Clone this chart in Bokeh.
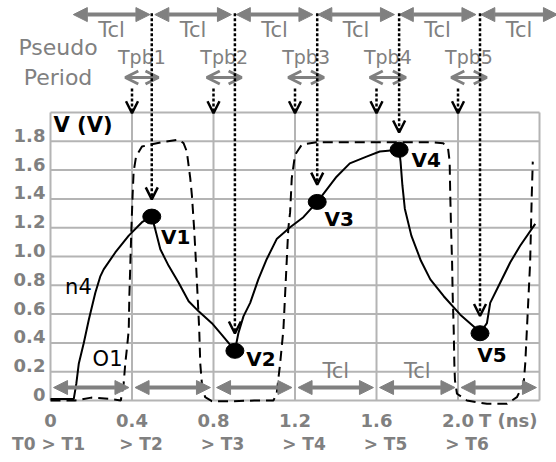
from bokeh.plotting import figure
from bokeh.models import Range1d, ColumnDataSource, Arrow, NormalHead, OpenHead
from bokeh.core.properties import value
from bokeh.embed import file_html
from bokeh.resources import INLINE

# ---------------- data ----------------
grid_t = [0.0, 0.4, 0.8, 1.2, 1.6, 2.0, 2.4]
grid_v = [0.0, 0.2, 0.4, 0.6, 0.8, 1.0, 1.2, 1.4, 1.6, 1.8, 2.0]

x_ticks = [0.0, 0.4, 0.8, 1.2, 1.6, 2.0]
x_tick_labels = ["0", "0.4", "0.8", "1.2", "1.6", "2.0"]
t_step_labels = ["T0 > T1", "> T2", "> T3", "> T4", "> T5", "> T6"]
y_ticks = [0.0, 0.2, 0.4, 0.6, 0.8, 1.0, 1.2, 1.4, 1.6, 1.8]
y_tick_labels = ["0", "0.2", "0.4", "0.6", "0.8", "1.0", "1.2", "1.4", "1.6", "1.8"]

# node n4 (solid)
n4_t = [0.0, 0.114, 0.127, 0.139, 0.163, 0.188, 0.22, 0.245, 0.261, 0.318, 0.384, 0.449, 0.497,
        0.514, 0.539, 0.58, 0.629, 0.678, 0.727, 0.792, 0.841, 0.882, 0.905,
        0.922, 0.947, 0.98, 1.02, 1.061, 1.11, 1.176, 1.241, 1.309,
        1.347, 1.404, 1.469, 1.551, 1.616, 1.711,
        1.718, 1.727, 1.739, 1.771, 1.818, 1.864, 1.93, 2.011, 2.077, 2.108,
        2.142, 2.158, 2.207, 2.256, 2.305, 2.379]
n4_v = [0.01, 0.01, 0.12, 0.257, 0.397, 0.561, 0.748, 0.864, 0.911, 1.028, 1.145, 1.238, 1.277,
        1.19, 1.05, 0.935, 0.818, 0.689, 0.619, 0.537, 0.456, 0.386, 0.345,
        0.467, 0.584, 0.678, 0.841, 0.981, 1.121, 1.203, 1.273, 1.379,
        1.449, 1.554, 1.647, 1.694, 1.729, 1.741,
        1.659, 1.495, 1.332, 1.145, 0.97, 0.841, 0.724, 0.596, 0.514, 0.467,
        0.537, 0.678, 0.818, 0.958, 1.075, 1.227]

# output O1 (dashed)
o1_t = [0.0, 0.12, 0.2, 0.3, 0.345, 0.359, 0.367, 0.376, 0.384, 0.387, 0.392, 0.397, 0.403, 0.408,
        0.42, 0.449, 0.547, 0.629, 0.653, 0.669, 0.686, 0.694, 0.705, 0.714, 0.722, 0.73, 0.735,
        0.743, 0.759, 0.792, 0.9, 1.0, 1.094, 1.11, 1.127, 1.143, 1.151, 1.159, 1.167, 1.176,
        1.184, 1.2, 1.233, 1.306, 1.6, 1.861, 1.927, 1.951, 1.959, 1.962, 1.966, 1.971, 1.974,
        1.979, 1.982, 1.985, 1.995, 2.044, 2.142, 2.24, 2.289, 2.322, 2.33, 2.338, 2.346, 2.354,
        2.358, 2.362, 2.367]
o1_v = [0.0, 0.0, 0.02, 0.01, 0.0, 0.117, 0.257, 0.374, 0.49, 0.724, 0.958, 1.192, 1.425, 1.589,
        1.694, 1.764, 1.794, 1.811, 1.787, 1.729, 1.542, 1.425, 1.192, 0.958, 0.724, 0.49, 0.257,
        0.117, 0.023, -0.005, -0.005, 0.0, 0.0, 0.047, 0.257, 0.491, 0.724, 0.958, 1.192, 1.308,
        1.542, 1.706, 1.776, 1.794, 1.794, 1.794, 1.787, 1.752, 1.659, 1.425, 1.192, 0.958, 0.724,
        0.49, 0.257, 0.14, 0.047, 0.0, -0.023, -0.023, 0.023, 0.117, 0.257, 0.49, 0.724, 0.958,
        1.192, 1.425, 1.659]

peak_names = ["V1", "V2", "V3", "V4", "V5"]
peak_t = [0.497, 0.905, 1.309, 1.711, 2.108]
peak_v = [1.277, 0.345, 1.379, 1.741, 0.467]

pseudo_t = [0.4, 0.8, 1.2, 1.6, 2.0]
tpb_names = ["Tpb1", "Tpb2", "Tpb3", "Tpb4", "Tpb5"]
tcl_top_bounds = [0.1, 0.5, 0.9, 1.3, 1.7, 2.1, 2.5]
tcl_bottom_bounds = grid_t
tcl_bottom_labelled = [3, 4]

# ---------------- styles / layout levels ----------------
GREY = "#808080"
GRID = "#b4b4b4"
FONT = value("DejaVu Sans")
TOP_ARROW_V = 2.68
TOP_LABEL_V = 2.57
TPB_LABEL_V = 2.382
TPB_ARROW_V = 2.243
PSEUDO_START_V = 2.167
PSEUDO_TIP_V = 1.995
TIP_GAP = 0.12
BOTTOM_ARROW_V = 0.09
BOTTOM_LABEL_V = 0.208
XLAB_V = -0.142
XLAB2_V = -0.302
YLAB_T = -0.025

p = figure(width=556, height=462, x_range=Range1d(-0.2454, 2.4834), y_range=Range1d(-0.4306, 2.7778),
           output_backend="svg", toolbar_location=None, x_axis_type=None, y_axis_type=None,
           min_border=0, outline_line_color=None)
p.title.visible = False

# grid
t_lo, t_hi = min(grid_t), max(grid_t)
v_lo, v_hi = min(grid_v), max(grid_v)
p.segment(x0=grid_t, y0=[v_lo] * len(grid_t), x1=grid_t, y1=[v_hi] * len(grid_t),
          line_color=GRID, line_width=2)
p.segment(x0=[t_lo] * len(grid_v), y0=grid_v, x1=[t_hi] * len(grid_v), y1=grid_v,
          line_color=GRID, line_width=2)

# tick labels
p.text(x=[YLAB_T] * len(y_ticks), y=y_ticks, text=y_tick_labels, text_font=FONT,
       text_font_size="18px", text_font_style="bold", text_color=GREY,
       text_align="right", text_baseline="middle", y_offset=-6)
p.text(x=x_ticks, y=[XLAB_V] * len(x_ticks), text=x_tick_labels, text_font=FONT,
       text_font_size="18px", text_font_style="bold", text_color=GREY,
       text_align="center", text_baseline="middle")
step_src = ColumnDataSource(dict(x=x_ticks, y=[XLAB2_V] * len(x_ticks), text=t_step_labels,
                                 dx=[-2] + [9] * (len(x_ticks) - 1)))
p.text(x="x", y="y", text="text", x_offset="dx", source=step_src, text_font=FONT,
       text_font_size="17px", text_font_style="bold", text_color=GREY,
       text_align="center", text_baseline="middle")
p.text(x=[x_ticks[-1]], y=[XLAB_V], text=["T (ns)"], x_offset=21, text_font=FONT,
       text_font_size="18px", text_font_style="bold", text_color=GREY,
       text_align="left", text_baseline="middle")
p.text(x=[t_lo], y=[1.91], text=["V (V)"], x_offset=3, text_font=FONT,
       text_font_size="21px", text_font_style="bold", text_color="black",
       text_align="left", text_baseline="middle")

# Pseudo period
p.text(x=[0.037, 0.037], y=[2.451, TPB_ARROW_V], text=["Pseudo", "Period"], text_font=FONT,
       text_font_size="22px", text_color=GREY, text_align="center", text_baseline="middle")

# top Tcl arrows
inset = 0.012
top_src = ColumnDataSource(dict(x0=[b + inset for b in tcl_top_bounds[:-1]],
                                x1=[b - inset for b in tcl_top_bounds[1:]],
                                y=[TOP_ARROW_V] * (len(tcl_top_bounds) - 1)))
p.add_layout(Arrow(start=NormalHead(size=14, fill_color=GREY, line_color=GREY),
                   end=NormalHead(size=14, fill_color=GREY, line_color=GREY),
                   x_start="x0", y_start="y", x_end="x1", y_end="y", source=top_src,
                   line_color=GREY, line_width=4))
top_mid = [(a + b) / 2 for a, b in zip(tcl_top_bounds[:-1], tcl_top_bounds[1:])]
p.text(x=top_mid, y=[TOP_LABEL_V] * len(top_mid), text=["Tcl"] * len(top_mid), text_font=FONT,
       text_font_size="21px", text_color=GREY, text_align="center", text_baseline="middle")

# Tpb arrows and labels
pad = 0.033
tpb_src = ColumnDataSource(dict(x0=[a - pad for a in pseudo_t], x1=[b + pad for b in peak_t],
                                y=[TPB_ARROW_V] * len(pseudo_t)))
p.add_layout(Arrow(start=OpenHead(size=13, line_color=GREY, line_width=3),
                   end=OpenHead(size=13, line_color=GREY, line_width=3),
                   x_start="x0", y_start="y", x_end="x1", y_end="y", source=tpb_src,
                   line_color=GREY, line_width=3))
tpb_mid = [(a + b) / 2 for a, b in zip(pseudo_t, peak_t)]
p.text(x=tpb_mid, y=[TPB_LABEL_V] * len(tpb_mid), text=tpb_names, text_font=FONT,
       text_font_size="19px", text_color=GREY, text_align="center", text_baseline="middle")

# bottom Tcl arrows
binset = 0.015
bot_src = ColumnDataSource(dict(x0=[b + binset for b in tcl_bottom_bounds[:-1]],
                                x1=[b - binset for b in tcl_bottom_bounds[1:]],
                                y=[BOTTOM_ARROW_V] * (len(tcl_bottom_bounds) - 1)))
p.add_layout(Arrow(start=NormalHead(size=14, fill_color=GREY, line_color=GREY),
                   end=NormalHead(size=14, fill_color=GREY, line_color=GREY),
                   x_start="x0", y_start="y", x_end="x1", y_end="y", source=bot_src,
                   line_color=GREY, line_width=4))
bot_mid = [(tcl_bottom_bounds[i] + tcl_bottom_bounds[i + 1]) / 2 for i in tcl_bottom_labelled]
p.text(x=bot_mid, y=[BOTTOM_LABEL_V] * len(bot_mid), text=["Tcl"] * len(bot_mid), text_font=FONT,
       text_font_size="21px", text_color=GREY, text_align="center", text_baseline="middle")

# curves
p.line(o1_t, o1_v, line_color="black", line_width=2, line_dash="10 6")
p.line(n4_t, n4_v, line_color="black", line_width=2)
p.ellipse(x=peak_t, y=peak_v, width=18, height=15, width_units="screen", height_units="screen",
          fill_color="black", line_color="black")

lab_src = ColumnDataSource(dict(x=peak_t, y=peak_v, text=peak_names,
                                dx=[24, 26, 22, 27, 12], dy=[20, 8, 17, 10, 22]))
p.text(x="x", y="y", text="text", x_offset="dx", y_offset="dy", source=lab_src, text_font=FONT,
       text_font_size="20px", text_font_style="bold", text_color="black",
       text_align="center", text_baseline="middle")
p.text(x=[0.137, 0.28], y=[0.785, 0.29], text=["n4", "O1"], text_font=FONT,
       text_font_size="21px", text_color="black", text_align="center", text_baseline="middle")

# pseudo-period markers
ps_src = ColumnDataSource(dict(x=pseudo_t, y0=[PSEUDO_START_V] * len(pseudo_t),
                               y1=[PSEUDO_TIP_V] * len(pseudo_t)))
p.add_layout(Arrow(end=OpenHead(size=12, line_color="black", line_width=2.5),
                   x_start="x", y_start="y0", x_end="x", y_end="y1", source=ps_src,
                   line_color="black", line_width=2.5, line_dash="3 2"))

# long dotted arrows to the V points
pk_src = ColumnDataSource(dict(x=peak_t, y0=[TOP_ARROW_V + 0.01] * len(peak_t),
                               y1=[v + TIP_GAP for v in peak_v]))
p.add_layout(Arrow(end=OpenHead(size=12, line_color="black", line_width=2.5),
                   x_start="x", y_start="y0", x_end="x", y_end="y1", source=pk_src,
                   line_color="black", line_width=2.5, line_dash="3 2"))

open("out.html", "w").write(file_html(p, INLINE))
